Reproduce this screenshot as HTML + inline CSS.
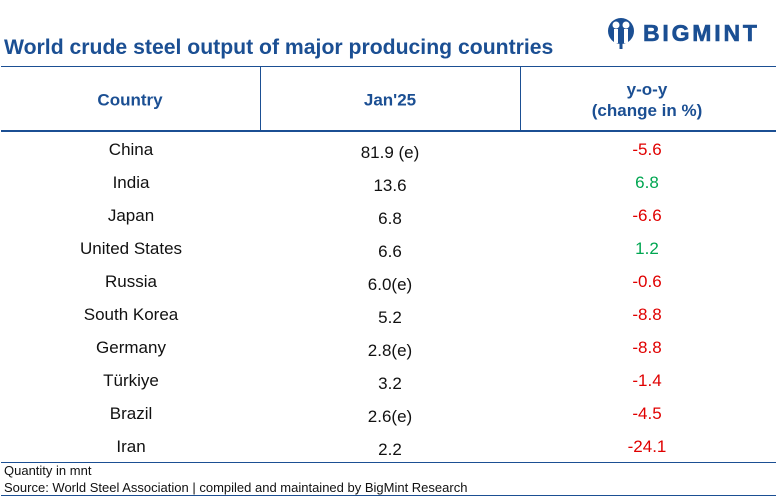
<!DOCTYPE html>
<html><head><meta charset="utf-8"><style>
body{margin:0;width:776px;height:497px;background:#fff;position:relative;overflow:hidden;font-family:"Liberation Sans",Arial,sans-serif}
.a{position:absolute}
.t{position:absolute;transform:translate(-50%,-50%);white-space:nowrap;font-size:17px;color:#111}
.h{font-weight:bold;color:#1b4f93;font-size:17px;text-align:center;line-height:21px}
.ln{position:absolute;background:#1b4f93}
</style></head><body>
<div class="a" style="left:4px;top:36px;font-size:21.2px;font-weight:bold;color:#1b4f93">World crude steel output of major producing countries</div>
<div class="a" style="left:604px;top:17px;height:32px;display:flex;align-items:center">
<svg width="34" height="34" viewBox="0 0 34 34"><circle cx="17" cy="15" r="13" fill="#1b4f93"/><circle cx="12" cy="9" r="3.5" fill="#fff"/><circle cx="22" cy="9" r="3.5" fill="#fff"/><rect x="10" y="13" width="4" height="14" fill="#fff"/><rect x="20" y="13" width="4" height="14" fill="#fff"/><rect x="15.5" y="22" width="3" height="11" fill="#1b4f93"/></svg>
<span style="font-weight:bold;font-size:23px;letter-spacing:2.8px;color:#1b4f93;margin-left:5px;-webkit-text-stroke:0.6px #1b4f93">BIGMINT</span></div>
<div class="ln" style="left:1px;top:66px;width:775px;height:1px"></div>
<div class="ln" style="left:260px;top:67px;width:1px;height:64px"></div>
<div class="ln" style="left:520px;top:67px;width:1px;height:64px"></div>
<div class="ln" style="left:1px;top:130px;width:775px;height:2px"></div>
<div class="t h" style="left:130px;top:100px">Country</div>
<div class="t h" style="left:390px;top:100px">Jan'25</div>
<div class="t h" style="left:647px;top:100px">y-o-y<br>(change in %)</div>
<div id="rows"></div>
<div class="ln" style="left:1px;top:462px;width:775px;height:1px"></div>
<div class="a" style="left:4px;top:463px;font-size:13px;color:#111">Quantity in mnt</div>
<div class="a" style="left:4px;top:480px;font-size:13px;color:#111">Source: World Steel Association | compiled and maintained by BigMint Research</div>
<div class="ln" style="left:1px;top:495px;width:775px;height:1px"></div>
<script>
const countries=["China","India","Japan","United States","Russia","South Korea","Germany","Türkiye","Brazil","Iran"];
const outputs=["81.9 (e)","13.6","6.8","6.6","6.0(e)","5.2","2.8(e)","3.2","2.6(e)","2.2"];
const yoy=[-5.6,6.8,-6.6,1.2,-0.6,-8.8,-8.8,-1.4,-4.5,-24.1];
const rows=document.getElementById('rows');
countries.forEach((c,i)=>{
  const y=150+i*33;
  const a=document.createElement('div');a.className='t';a.style.left='131px';a.style.top=y+'px';a.textContent=c;
  
  
  const b=document.createElement('div');b.className='t';b.style.left='390px';b.style.top=(y+3)+'px';b.textContent=outputs[i];
  
  
  const d=document.createElement('div');d.className='t';d.style.left='647px';d.style.top=y+'px';
  d.textContent=yoy[i].toFixed(1);d.style.color=yoy[i]<0?'#e00000':'#00a651';
  
  
  rows.append(a,b,d);
});
</script>
</body></html>
